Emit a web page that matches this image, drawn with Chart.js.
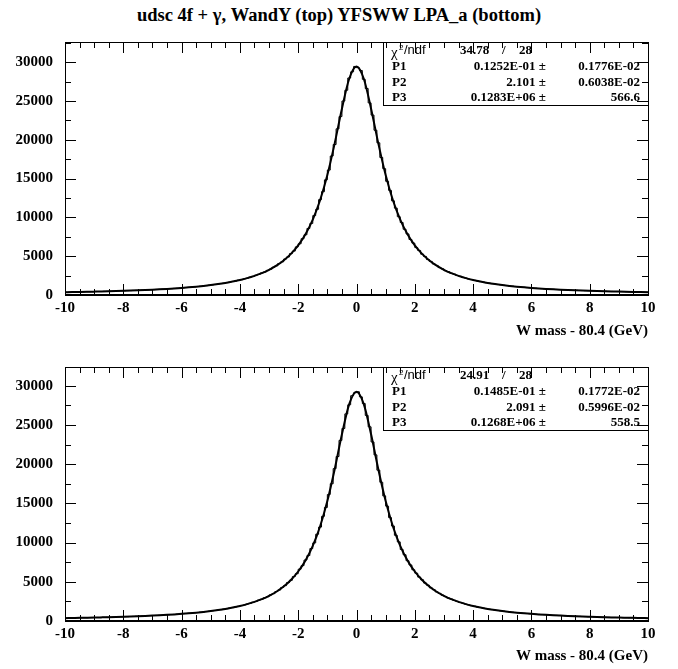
<!DOCTYPE html>
<html>
<head>
<meta charset="utf-8">
<script src="https://cdn.jsdelivr.net/npm/chart.js@4"></script>
<style>
  body { margin: 0; background: #fff; width: 678px; height: 669px; position: relative; overflow: hidden; }
  #title { position: absolute; left: 0; top: 5px; width: 678px; text-align: center;
           font: bold 18.5px "Liberation Serif", serif; color: #000; }
  .panel { position: absolute; left: 0; width: 678px; }
</style>
</head>
<body>
<div id="title">udsc 4f + γ, WandY (top) YFSWW LPA_a (bottom)</div>
<div class="panel" style="top:0; height:345px"><canvas id="top"></canvas></div>
<div class="panel" style="top:345px; height:324px"><canvas id="bottom"></canvas></div>

<script>
// binning and axes
const xMin = -10, xMax = 10;
const binWidth = 0.1;
const fitStep = 0.25;
const xTickValues = [-10, -8, -6, -4, -2, 0, 2, 4, 6, 8, 10];
const yTickValues = [0, 5000, 10000, 15000, 20000, 25000, 30000];
const yMaxTop = 32600, yMaxBottom = 32400;
const xTitle = 'W mass - 80.4 (GeV)';

// histogram contents, 200 bins from -10 to 10
const histTop = [
  361, 373, 375, 387, 389, 402, 404, 417, 420, 434,
  437, 451, 455, 470, 474, 490, 495, 512, 517, 535,
  541, 560, 567, 587, 595, 616, 625, 647, 658, 681,
  693, 718, 732, 759, 773, 803, 818, 851, 869, 904,
  924, 962, 984, 1026, 1051, 1097, 1125, 1177, 1207, 1264,
  1300, 1363, 1403, 1474, 1519, 1600, 1650, 1741, 1798, 1904,
  1968, 2088, 2164, 2301, 2390, 2548, 2654, 2837, 2961, 3176,
  3324, 3578, 3756, 4057, 4272, 4635, 4898, 5336, 5660, 6196,
  6598, 7258, 7763, 8578, 9218, 10230, 11040, 12290, 13310, 14840,
  16100, 17910, 19390, 21410, 22990, 24990, 26380, 27960, 28760, 29450,
  29290, 28930, 27790, 26610, 24750, 23180, 21230, 19610, 17720, 16280,
  14650, 13480, 12140, 11190, 10090, 9340, 8470, 7870, 7150, 6690,
  6110, 5740, 5260, 4970, 4570, 4330, 4000, 3810, 3530, 3370,
  3130, 3000, 2800, 2690, 2510, 2420, 2270, 2190, 2060, 1995,
  1880, 1820, 1720, 1670, 1580, 1536, 1458, 1418, 1349, 1312,
  1251, 1219, 1165, 1136, 1087, 1061, 1016, 994, 953, 932,
  896, 877, 843, 826, 795, 781, 752, 738, 712, 699,
  675, 664, 641, 631, 610, 601, 581, 573, 554, 547,
  529, 523, 506, 501, 484, 480, 464, 460, 445, 442,
  428, 425, 411, 409, 396, 394, 381, 380, 367, 366
];
const histBottom = [
  372, 373, 385, 386, 398, 400, 413, 415, 429, 431,
  446, 449, 464, 467, 483, 487, 503, 508, 525, 531,
  549, 555, 574, 582, 602, 610, 632, 641, 664, 675,
  699, 711, 737, 750, 779, 793, 824, 840, 873, 892,
  928, 949, 989, 1011, 1055, 1080, 1128, 1157, 1211, 1243,
  1303, 1338, 1406, 1446, 1522, 1567, 1653, 1705, 1802, 1861,
  1972, 2041, 2168, 2248, 2394, 2488, 2656, 2768, 2965, 3097,
  3328, 3486, 3760, 3951, 4279, 4512, 4905, 5194, 5670, 6028,
  6612, 7062, 7780, 8349, 9240, 9960, 11070, 11980, 13350, 14480,
  16140, 17510, 19440, 20980, 23040, 24560, 26420, 27580, 28740, 29120,
  29240, 28590, 27740, 26220, 24770, 22840, 21190, 19240, 17700, 15960,
  14650, 13190, 12120, 10930, 10090, 9120, 8450, 7690, 7150, 6530,
  6100, 5600, 5260, 4845, 4570, 4225, 4000, 3715, 3528, 3290,
  3133, 2931, 2799, 2627, 2515, 2368, 2272, 2145, 2063, 1952,
  1881, 1784, 1722, 1637, 1582, 1507, 1460, 1393, 1350, 1291,
  1254, 1200, 1167, 1119, 1089, 1046, 1020, 980, 957, 920,
  899, 866, 847, 817, 800, 772, 757, 730, 717, 693,
  681, 658, 647, 626, 616, 596, 588, 568, 561, 543,
  537, 519, 514, 497, 493, 477, 473, 458, 455, 440,
  437, 423, 421, 407, 406, 392, 391, 379, 378, 366
];

// fitted curve, sampled every 0.25 from -10 to 10
const fitTop = [
  361, 377, 395, 414, 435, 457, 482, 509, 538, 570,
  605, 644, 687, 735, 788, 847, 914, 989, 1074, 1171,
  1282, 1410, 1558, 1731, 1935, 2177, 2468, 2819, 3249, 3781,
  4449, 5298, 6393, 7822, 9709, 12203, 15457, 19508, 24006, 27863,
  29440,
  27863, 24006, 19508, 15457, 12203, 9709, 7822, 6393, 5298, 4449,
  3781, 3249, 2819, 2468, 2177, 1935, 1731, 1558, 1410, 1282,
  1171, 1074, 989, 914, 847, 788, 735, 687, 644, 605,
  570, 538, 509, 482, 457, 435, 414, 395, 377, 361
];
const fitBottom = [
  365, 382, 399, 418, 438, 461, 485, 511, 540, 571,
  606, 644, 687, 733, 786, 844, 910, 984, 1067, 1163,
  1272, 1398, 1544, 1715, 1916, 2154, 2440, 2786, 3210, 3734,
  4393, 5231, 6312, 7725, 9591, 12062, 15292, 19322, 23810, 27669,
  29250,
  27669, 23810, 19322, 15292, 12062, 9591, 7725, 6312, 5231, 4393,
  3734, 3210, 2786, 2440, 2154, 1916, 1715, 1544, 1398, 1272,
  1163, 1067, 984, 910, 844, 786, 733, 687, 644, 606,
  571, 540, 511, 485, 461, 438, 418, 399, 382, 365
];

// fit statistics
const chi2Top = ['34.78', '28'];
const parsTop = [
  ['P1', '0.1252E-01', '0.1776E-02'],
  ['P2', '2.101', '0.6038E-02'],
  ['P3', '0.1283E+06', '566.6']
];
const chi2Bottom = ['24.91', '28'];
const parsBottom = [
  ['P1', '0.1485E-01', '0.1772E-02'],
  ['P2', '2.091', '0.5996E-02'],
  ['P3', '0.1268E+06', '558.5']
];

// bin low edges plus the closing edge, so each bin is one flat step
function histPoints(vals) {
  const pts = vals.map((v, i) => ({ x: xMin + i * binWidth, y: v }));
  pts.push({ x: xMax, y: vals[vals.length - 1] });
  return pts;
}

function fitPoints(vals) {
  return vals.map((v, i) => ({ x: xMin + i * fitStep, y: v }));
}

// ROOT style frame with inward ticks on all four sides
const frame = {
  id: 'frame',
  afterDraw(chart) {
    const { ctx, chartArea: a, scales: { x, y } } = chart;
    ctx.save();
    ctx.strokeStyle = '#000';
    ctx.lineWidth = 1;
    ctx.beginPath();
    for (let k = 0; k <= (xMax - xMin) * 2; k++) {
      const v = xMin + k * 0.5;
      const px = Math.round(x.getPixelForValue(v)) + 0.5;
      const len = k % 4 === 0 ? 11 : 6;
      ctx.moveTo(px, a.bottom); ctx.lineTo(px, a.bottom - len);
      ctx.moveTo(px, a.top); ctx.lineTo(px, a.top + len);
    }
    for (let v = 0; v <= y.max; v += 2500) {
      const py = Math.round(y.getPixelForValue(v)) + 0.5;
      const len = v % 5000 === 0 ? 11 : 6;
      ctx.moveTo(a.left, py); ctx.lineTo(a.left + len, py);
      ctx.moveTo(a.right, py); ctx.lineTo(a.right - len, py);
    }
    ctx.stroke();
    ctx.strokeRect(Math.round(a.left) + 0.5, Math.round(a.top) + 0.5,
                   Math.round(a.right - a.left), Math.round(a.bottom - a.top));
    ctx.lineWidth = 2;
    ctx.beginPath();
    ctx.moveTo(a.left, Math.round(a.bottom));
    ctx.lineTo(a.right + 1, Math.round(a.bottom));
    ctx.stroke();
    ctx.restore();
  }
};

// fit statistics box
const statBox = {
  id: 'statBox',
  afterDatasetsDraw(chart, args, opts) {
    const { ctx, chartArea: a } = chart;
    const left = a.left + 318, top = a.top, right = a.right, h = 63;
    const rowH = h / 4;
    ctx.save();
    ctx.fillStyle = '#fff';
    ctx.fillRect(left, top, right - left, h);
    ctx.strokeStyle = '#000';
    ctx.lineWidth = 1;
    ctx.strokeRect(Math.round(left) + 0.5, Math.round(top) + 0.5, Math.round(right - left), h);
    ctx.fillStyle = '#000';
    ctx.textBaseline = 'middle';
    // chi2 / ndf row
    const cy = top + rowH / 2 + 1;
    ctx.textAlign = 'left';
    ctx.font = '15px "Liberation Serif"';
    ctx.fillText('χ', left + 8, cy + 2);
    ctx.font = '8px "Liberation Sans"';
    ctx.fillText('2', left + 16, cy - 3);
    ctx.font = '13px "Liberation Sans"';
    ctx.fillText('/ndf', left + 21, cy);
    ctx.font = 'bold 13px "Liberation Serif"';
    ctx.fillText(opts.chi2[0], left + 77, cy);
    ctx.fillText('/', left + 119, cy);
    ctx.fillText(opts.chi2[1], left + 136, cy);
    // parameter rows
    opts.pars.forEach((p, i) => {
      const ry = top + rowH * (i + 1) + rowH / 2 + 1;
      ctx.textAlign = 'left';
      ctx.fillText(p[0], left + 9, ry);
      ctx.textAlign = 'right';
      ctx.fillText(p[1] + ' ±', left + 163, ry);
      ctx.fillText(p[2], right - 8, ry);
    });
    ctx.restore();
  }
};

function makePanel(id, hist, fit, yMax, chi2, pars, padTop, axisH, titlePad) {
  const tickFont = { family: '"Liberation Serif"', size: 15, weight: 'bold' };
  new Chart(document.getElementById(id), {
    type: 'line',
    data: {
      datasets: [
        {
          data: histPoints(hist),
          stepped: 'before',
          borderColor: '#000',
          borderWidth: 1,
          pointRadius: 0,
          fill: false
        },
        {
          data: fitPoints(fit),
          cubicInterpolationMode: 'monotone',
          borderColor: '#000',
          borderWidth: 2,
          pointRadius: 0,
          fill: false
        }
      ]
    },
    options: {
      responsive: true,
      maintainAspectRatio: false,
      animation: false,
      events: [],
      layout: { padding: { top: padTop, right: 30, left: 0, bottom: 0 } },
      plugins: {
        legend: { display: false },
        tooltip: { enabled: false },
        statBox: { chi2: chi2, pars: pars }
      },
      scales: {
        x: {
          type: 'linear',
          min: xMin,
          max: xMax,
          grid: { display: false, drawTicks: false },
          border: { display: false },
          afterBuildTicks: s => { s.ticks = xTickValues.map(v => ({ value: v })); },
          afterFit: s => { s.height = axisH; },
          ticks: { font: tickFont, color: '#000', padding: 4, maxRotation: 0, callback: v => String(v) },
          title: {
            display: true,
            text: xTitle,
            align: 'end',
            color: '#000',
            font: tickFont,
            padding: { top: 0, bottom: titlePad }
          }
        },
        y: {
          min: 0,
          max: yMax,
          grid: { display: false, drawTicks: false },
          border: { display: false },
          afterBuildTicks: s => { s.ticks = yTickValues.map(v => ({ value: v })); },
          afterFit: s => { s.width = 65; },
          ticks: { font: tickFont, color: '#000', padding: 12, callback: v => String(v) }
        }
      }
    },
    plugins: [statBox, frame]
  });
}

makePanel('top', histTop, fitTop, yMaxTop, chi2Top, parsTop, 42, 50, 5);
makePanel('bottom', histBottom, fitBottom, yMaxBottom, chi2Bottom, parsBottom, 22, 48, 4);
</script>
</body>
</html>
